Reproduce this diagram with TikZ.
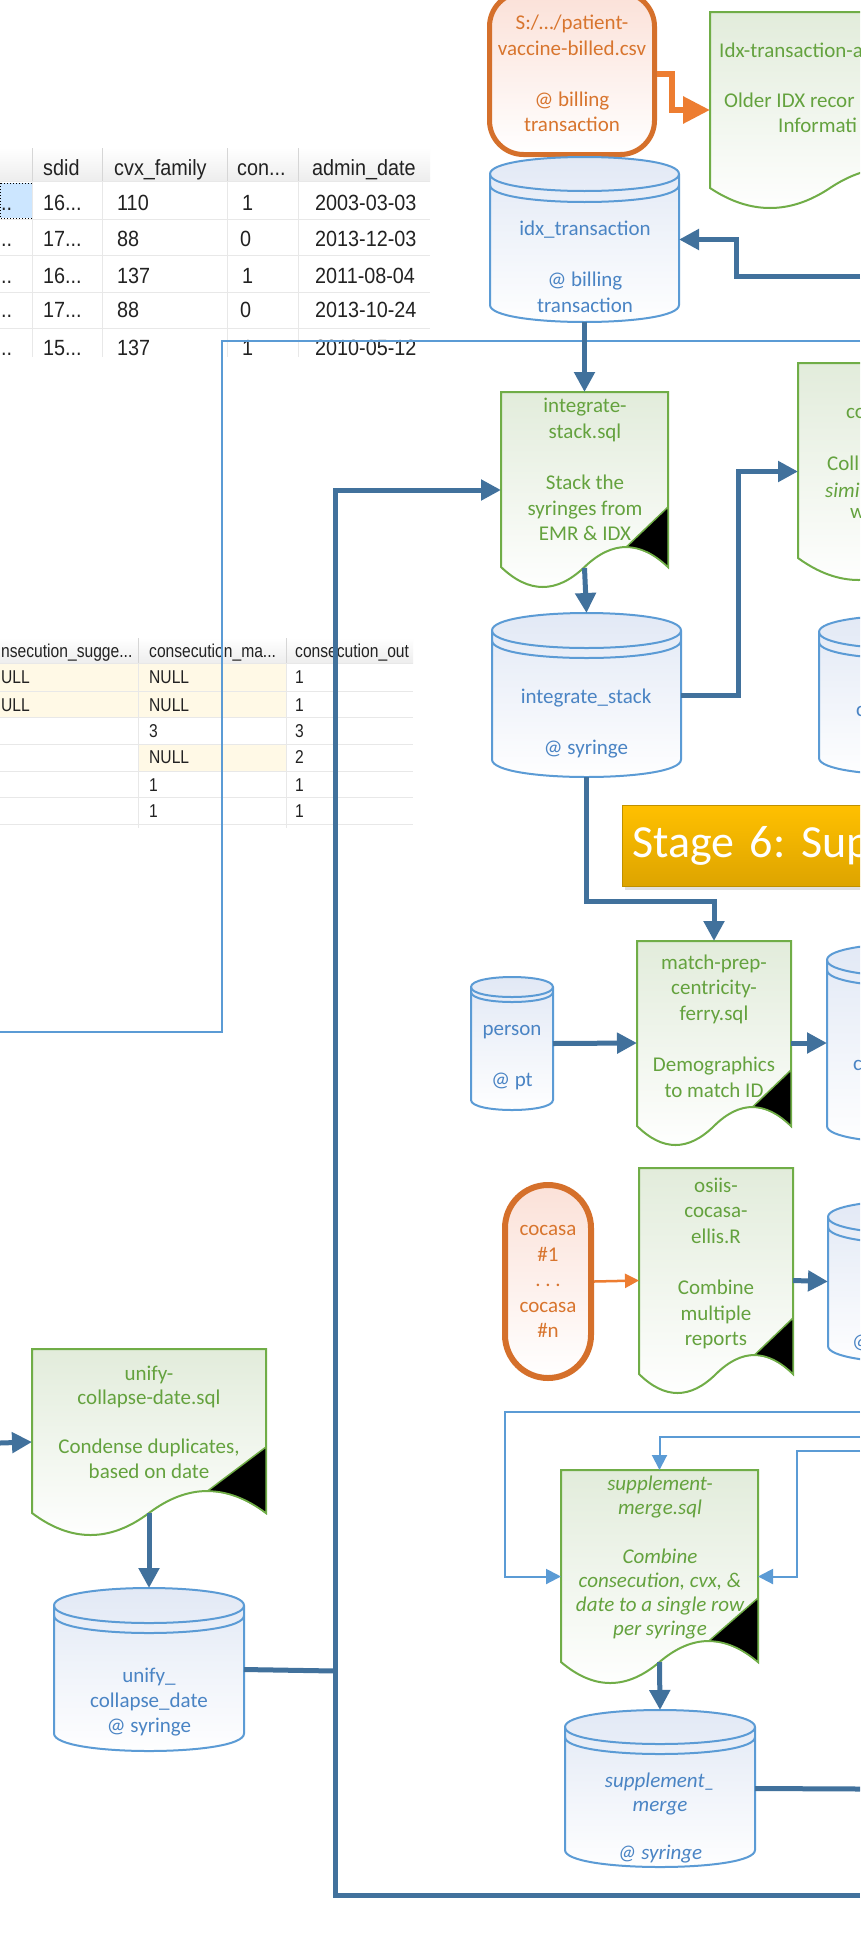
\documentclass[tikz,border=0pt]{standalone}
\usepackage{fontspec}
\setmainfont{Carlito}
\newfontfamily\tabfont{Liberation Sans}
\frenchspacing
\usetikzlibrary{arrows.meta,calc}
\definecolor{thickblue}{HTML}{41719C}
\definecolor{thinblue}{HTML}{5B9BD5}
\definecolor{cylline}{HTML}{5B9BD5}
\definecolor{cyltext}{HTML}{4A84C4}
\definecolor{cylfill}{HTML}{E1E8F5}
\definecolor{docline}{HTML}{70AD47}
\definecolor{doctext}{HTML}{64A23E}
\definecolor{docfill}{HTML}{E2ECDB}
\definecolor{orline}{HTML}{D5702B}
\definecolor{ortext}{HTML}{D8752E}
\definecolor{orarrow}{HTML}{ED7D31}
\definecolor{orfill}{HTML}{FBE1D8}
\definecolor{bantop}{HTML}{FFC000}
\definecolor{banbot}{HTML}{DDA400}
\definecolor{banline}{HTML}{BF9000}
\definecolor{tabtext}{HTML}{222222}
\definecolor{tabgrid}{HTML}{E8E8E8}
\definecolor{tabsep}{HTML}{D6D6D6}
\definecolor{selblue}{HTML}{CCE6FF}
\definecolor{cream}{HTML}{FFF9E6}
\newcounter{tc}
\newcommand{\tcell}[4]{\stepcounter{tc}\node[#1] (tc\arabic{tc}) at (#2,#3) {#4};}
\newcommand{\tsa}[1]{\scalebox{0.9}[1]{#1}}
\newcommand{\tsb}[1]{\scalebox{0.84}[1]{#1}}
% document shape: L T R yb a tritop
\newcommand{\docshape}[6]{%
 \pgfmathsetmacro{\dh}{(#3-#1)/2}%
 \pgfmathsetmacro{\dk}{4*#5/3}%
 \pgfmathsetmacro{\xa}{#3-\dh/3}\pgfmathsetmacro{\xb}{#3-2*\dh/3}\pgfmathsetmacro{\xm}{#3-\dh}%
 \pgfmathsetmacro{\xc}{#3-4*\dh/3}\pgfmathsetmacro{\xd}{#3-5*\dh/3}%
 \pgfmathsetmacro{\yu}{#4-\dk}\pgfmathsetmacro{\yl}{#4+\dk}%
 \path[docbody] (#1,#2) -- (#3,#2) -- (#3,#4) .. controls (\xa,\yu) and (\xb,\yu) .. (\xm,#4) .. controls (\xc,\yl) and (\xd,\yl) .. (#1,#4) -- cycle;
 \pgfmathsetmacro{\xe}{#3-\dh/2}\pgfmathsetmacro{\ye}{#4-#5}\pgfmathsetmacro{\xf}{#3-\dh/6}\pgfmathsetmacro{\yf}{#4-2*#5/3}%
 \path[doctri] (#3,#6) -- (\xe,\ye) .. controls (\xa,\ye) and (\xf,\yf) .. (#3,#4) -- cycle;
}
% cylinder: L T R B ry d
\newcommand{\cylshape}[6]{%
 \pgfmathsetmacro{\ca}{#2+#5}\pgfmathsetmacro{\cb}{#4-#5}\pgfmathsetmacro{\ck}{4*#5/3}%
 \pgfmathsetmacro{\cc}{\ca+#6}%
 \path[cylbody] (#1,\ca) -- (#1,\cb) .. controls (#1,{\cb+\ck}) and (#3,{\cb+\ck}) .. (#3,\cb) -- (#3,\ca) .. controls (#3,{\ca-\ck}) and (#1,{\ca-\ck}) .. (#1,\ca) -- cycle;
 \path[cylarc] (#1,\ca) .. controls (#1,{\ca+\ck}) and (#3,{\ca+\ck}) .. (#3,\ca);
 \path[cylarc] (#1,\cc) .. controls (#1,{\cc+\ck}) and (#3,{\cc+\ck}) .. (#3,\cc);
}
\begin{document}
\begin{tikzpicture}[x=1pt,y=-1pt,
  bigline/.style={draw=thickblue,line width=5pt},
  bigarrow/.style={bigline,-{Triangle[length=20pt,width=20pt]}},
  thinline/.style={draw=thinblue,line width=2pt},
  thinarrow/.style={thinline,-{Triangle[length=15pt,width=15pt]}},
  orbig/.style={draw=orarrow,line width=6pt,-{Triangle[length=27pt,width=26pt]}},
  orthin/.style={draw=orarrow,line width=2.5pt,-{Triangle[length=14pt,width=14pt]}},
  docbody/.style={draw=docline,line width=2pt,top color=docfill,bottom color=white},
  doctri/.style={draw=docline,line width=1.5pt,fill=black},
  cylbody/.style={draw=cylline,line width=2pt,top color=cylfill,bottom color=white},
  cylarc/.style={draw=cylline,line width=2pt},
  shapebox/.style={inner sep=0pt,outer sep=0pt},
  dtxt/.style={text=doctext,font=\fontsize{21}{25.6}\selectfont,align=center,inner sep=0pt},
  ctxt/.style={text=cyltext,font=\fontsize{21}{25.6}\selectfont,align=center,inner sep=0pt},
  frag/.style={font=\fontsize{21}{25.6}\selectfont,inner sep=0pt,anchor=west},
  tA/.style={font=\tabfont\fontsize{22}{26}\selectfont,text=tabtext,inner sep=0pt,anchor=base west},
  tB/.style={font=\tabfont\fontsize{18.6}{22}\selectfont,text=tabtext,inner sep=0pt,anchor=base west},
]
\useasboundingbox (0,0) rectangle (860,1954);
\clip (0,0) rectangle (860,1954);
\fill[white] (0,0) rectangle (860,1954);

% ---------- table 1 ----------
\fill[top color=white,bottom color=black!7] (0,148) rectangle (430,181);
\fill[selblue] (0,183) rectangle (32,218);
\draw[black,dotted,line width=1pt] (0,183) rectangle (32,218);
\foreach \yy in {181,219,255,292,328} \draw[tabgrid,line width=1pt] (0,\yy) -- (430,\yy);
\foreach \xx in {32,102,227,298} {\draw[tabgrid,line width=1pt] (\xx,181) -- (\xx,357); \draw[tabsep,line width=1pt] (\xx,148) -- (\xx,181);}
\tcell{tA}{43}{175}{\tsa{sdid}}
\tcell{tA}{114}{175}{\tsa{cvx\_family}}
\tcell{tA}{237}{175}{\tsa{con...}}
\tcell{tA}{312}{175}{\tsa{admin\_date}}
\tcell{tA}{1}{210}{\tsa{..}}
\tcell{tA}{43}{210}{\tsa{16...}}
\tcell{tA}{117}{210}{\tsa{110}}
\tcell{tA}{242}{210}{\tsa{1}}
\tcell{tA}{315}{210}{\tsa{2003-03-03}}
\tcell{tA}{1}{246.5}{\tsa{..}}
\tcell{tA}{43}{246.5}{\tsa{17...}}
\tcell{tA}{117}{246.5}{\tsa{88}}
\tcell{tA}{240}{246.5}{\tsa{0}}
\tcell{tA}{315}{246.5}{\tsa{2013-12-03}}
\tcell{tA}{1}{283}{\tsa{..}}
\tcell{tA}{43}{283}{\tsa{16...}}
\tcell{tA}{117}{283}{\tsa{137}}
\tcell{tA}{242}{283}{\tsa{1}}
\tcell{tA}{315}{283}{\tsa{2011-08-04}}
\tcell{tA}{1}{317}{\tsa{..}}
\tcell{tA}{43}{317}{\tsa{17...}}
\tcell{tA}{117}{317}{\tsa{88}}
\tcell{tA}{240}{317}{\tsa{0}}
\tcell{tA}{315}{317}{\tsa{2013-10-24}}
\tcell{tA}{1}{355}{\tsa{..}}
\tcell{tA}{43}{355}{\tsa{15...}}
\tcell{tA}{117}{355}{\tsa{137}}
\tcell{tA}{242}{355}{\tsa{1}}
\tcell{tA}{315}{355}{\tsa{2010-05-12}}
\fill[white] (0,358) rectangle (440,372);

% ---------- table 2 ----------
\fill[top color=white,bottom color=black!7] (0,638) rectangle (413,663);
\fill[cream] (0,664) rectangle (286,717);
\fill[cream] (138,744) rectangle (286,771);
\foreach \yy in {663,691,717,744,771,797,824} \draw[tabgrid,line width=1pt] (0,\yy) -- (413,\yy);
\foreach \xx in {138,286} {\draw[tabgrid,line width=1pt] (\xx,663) -- (\xx,828); \draw[tabsep,line width=1pt] (\xx,638) -- (\xx,663);}
\tcell{tB}{1}{657}{\tsb{nsecution\_sugge...}}
\tcell{tB}{149}{657}{\tsb{consecution\_ma...}}
\tcell{tB}{295}{657}{\tsb{consecution\_out}}
\tcell{tB}{1}{683}{\tsb{ULL}}
\tcell{tB}{149}{683}{\tsb{NULL}}
\tcell{tB}{295}{683}{\tsb{1}}
\tcell{tB}{1}{711}{\tsb{ULL}}
\tcell{tB}{149}{711}{\tsb{NULL}}
\tcell{tB}{295}{711}{\tsb{1}}
\tcell{tB}{149}{737}{\tsb{3}}
\tcell{tB}{295}{737}{\tsb{3}}
\tcell{tB}{149}{763}{\tsb{NULL}}
\tcell{tB}{295}{763}{\tsb{2}}
\tcell{tB}{149}{791}{\tsb{1}}
\tcell{tB}{295}{791}{\tsb{1}}
\tcell{tB}{149}{817}{\tsb{1}}
\tcell{tB}{295}{817}{\tsb{1}}

% ---------- shapes ----------
\node[draw=orline,line width=5pt,rounded corners=34pt,top color=orfill,bottom color=white,
  minimum width=165pt,minimum height=162pt,inner sep=0pt,text=ortext,
  font=\fontsize{21}{25.6}\selectfont,align=center] (csv) at (572,73.5)
  {S:/…/patient-\\vaccine-billed.csv\\[25.6pt]@ billing\\transaction};

\docshape{710}{12}{950}{188}{20}{128}
\node[shapebox,minimum width=240pt,minimum height=196pt] (idxdoc) at (830,110) {};
\node[frag,text=doctext] (idxdoc-a) at (719,50) {Idx-transaction-a};
\node[frag,text=doctext] (idxdoc-b) at (724,100) {Older IDX recor};
\node[frag,text=doctext] (idxdoc-c) at (778,125) {Informati};

\cylshape{490}{157}{679}{322}{17}{11}
\node[shapebox,minimum width=189pt,minimum height=165pt] (idxdb) at (584.5,239.5) {};
\node[ctxt] (idxdb-t) at (585,266.5) {idx\_transaction\\[25.6pt]@ billing\\transaction};

\docshape{501}{392}{668}{567}{20}{507}
\node[shapebox,minimum width=167pt,minimum height=196pt] (intdoc) at (584.5,490) {};
\node[dtxt] (intdoc-t) at (585,469.5) {integrate-\\stack.sql\\[25.6pt]Stack the\\syringes from\\EMR \& IDX};

\cylshape{492}{613}{681}{777}{17.5}{10}
\node[shapebox,minimum width=189pt,minimum height=164pt] (intdb) at (586.5,695) {};
\node[ctxt] (intdb-t) at (586,723.5) {integrate\_stack\\[25.6pt]@ syringe};

\docshape{798}{363}{1040}{558}{22}{498}
\node[shapebox,minimum width=242pt,minimum height=217pt] (cdoc) at (919,471.5) {};
\node[frag,text=doctext] (cdoc-a) at (846,413) {co};
\node[frag,text=doctext] (cdoc-b) at (827,463) {Coll};
\node[frag,text=doctext,font=\fontsize{21}{25.6}\selectfont\itshape] (cdoc-c) at (825,490) {simi};
\node[frag,text=doctext] (cdoc-d) at (850,513) {w};

\cylshape{819}{615}{1010}{775}{17}{10}
\node[shapebox,minimum width=191pt,minimum height=160pt] (cdb) at (914.5,695) {};
\node[frag,text=cyltext] (cdb-t) at (856,711) {c};

\fill[black!12] (625,886) rectangle (860,890);
\node[draw=banline,line width=1pt,top color=bantop,bottom color=banbot,anchor=north west,
  minimum width=500pt,minimum height=81pt,inner xsep=8pt,inner ysep=0pt,text width=480pt,align=left,
  text=white,font=\fontsize{46}{50}\selectfont] (stage) at (622,805) {Stage 6: Sup};

\docshape{637}{941}{791}{1126}{19}{1070}
\node[shapebox,minimum width=154pt,minimum height=204pt] (mpdoc) at (714,1043) {};
\node[dtxt] (mpdoc-t) at (714,1026) {match-prep-\\centricity-\\ferry.sql\\[25.6pt]Demographics\\to match ID};

\cylshape{471}{977}{553}{1110}{10}{5}
\node[shapebox,minimum width=82pt,minimum height=133pt] (person) at (512,1043.5) {};
\node[ctxt] (person-t) at (512,1057.5) {person\\[25.6pt]@ pt};

\cylshape{827}{943}{1016}{1143}{17}{10}
\node[shapebox,minimum width=189pt,minimum height=200pt] (mdb) at (921.5,1043) {};
\node[frag,text=cyltext] (mdb-t) at (853,1065) {c};

\node[draw=orline,line width=6pt,rounded corners=43pt,top color=orfill,bottom color=white,
  minimum width=86pt,minimum height=193pt,inner sep=0pt,text=ortext,
  font=\fontsize{21}{25.6}\selectfont,align=center] (cocasa) at (548,1281.5)
  {cocasa\\\#1\\. . .\\cocasa\\\#n};

\docshape{639}{1168}{793}{1374}{19}{1318}
\node[shapebox,minimum width=154pt,minimum height=225pt] (osiis) at (716,1280.5) {};
\node[dtxt] (osiis-t) at (716,1263.5) {osiis-\\cocasa-\\ellis.R\\[25.6pt]Combine\\multiple\\reports};

\cylshape{828}{1200}{1017}{1363}{17}{10}
\node[shapebox,minimum width=189pt,minimum height=163pt] (cdb2) at (922.5,1281.5) {};
\node[frag,text=cyltext] (cdb2-t) at (852,1343) {@};

\docshape{32}{1349}{266}{1513}{22}{1447}
\node[shapebox,minimum width=234pt,minimum height=186pt] (udoc) at (149,1442) {};
\node[dtxt,font=\fontsize{21}{24.5}\selectfont] (udoc-t) at (149,1422) {unify-\\collapse-date.sql\\[24.5pt]Condense duplicates,\\based on date};

\cylshape{54}{1588}{244}{1751}{17.5}{10}
\node[shapebox,minimum width=190pt,minimum height=163pt] (udb) at (149,1669.5) {};
\node[ctxt,font=\fontsize{21}{25}\selectfont] (udb-t) at (149,1702) {unify\_\\collapse\_date\\@ syringe};

\docshape{561}{1470}{758}{1662}{21}{1598}
\node[shapebox,minimum width=197pt,minimum height=213pt] (smdoc) at (659.5,1576.5) {};
\node[dtxt,font=\fontsize{21}{24.3}\selectfont\itshape] (smdoc-t) at (660,1557.5) {supplement-\\merge.sql\\[24.3pt]Combine\\consecution, cvx, \&\\date to a single row\\per syringe};

\cylshape{565}{1710}{755}{1867}{17}{10}
\node[shapebox,minimum width=190pt,minimum height=157pt] (smdb) at (660,1788.5) {};
\node[ctxt,font=\fontsize{21}{24}\selectfont\itshape] (smdb-t) at (660,1818) {supplement\_\\merge\\[24pt]@ syringe};

% ---------- connectors ----------
\coordinate (tR) at (860,341);
\coordinate (tL) at (0,1032);
\draw[thinline] (tR) -- (222,341) -- (222,1032) -- (tL);

\draw[orbig] (csv.east) -- ++(15,0) |- (idxdoc.west);
\coordinate (inR) at (860,276);
\draw[bigarrow] (inR) -- ++(-124,0) |- (idxdb.east);
\draw[bigarrow] (idxdb.south) -- (intdoc.north);
\draw[bigarrow] ($(intdoc.south)+(0,-20)$) -- (intdb.north);
\draw[bigarrow] (intdb.east) -- ++(57,0) |- (cdoc.west);
\draw[bigarrow] (intdb.south) -- ++(0,124) -| (mpdoc.north);
\draw[bigarrow] (person.east) -- (mpdoc.west);
\draw[bigarrow] (mpdoc.east) -- (mdb.west);
\draw[orthin] (cocasa.east) -- (osiis.west);
\draw[bigarrow] (osiis.east) -- (cdb2.west);

\coordinate (f1) at (860,1412);
\coordinate (f2) at (860,1437);
\coordinate (f3) at (860,1451);
\draw[thinarrow] (f1) -- (505,1412) |- (smdoc.west);
\draw[thinarrow] (f2) -| (smdoc.north);
\draw[thinarrow] (f3) -- (797,1451) |- (smdoc.east);
\draw[bigarrow] ($(smdoc.south)+(0,-21)$) -- (smdb.north);
\coordinate (smR) at (860,1789);
\draw[bigline] (smdb.east) -- (smR);

\coordinate (uin) at (0,1443);
\draw[bigarrow] (uin) -- (udoc.west);
\draw[bigarrow] ($(udoc.south)+(0,-22)$) -- (udb.north);
\coordinate (vjoin) at (335,1671);
\draw[bigline] (udb.east) -- (vjoin);

\coordinate (bR) at (860,1895);
\draw[bigarrow] (bR) -- (335,1895) |- (intdoc.west);
\end{tikzpicture}
\end{document}
